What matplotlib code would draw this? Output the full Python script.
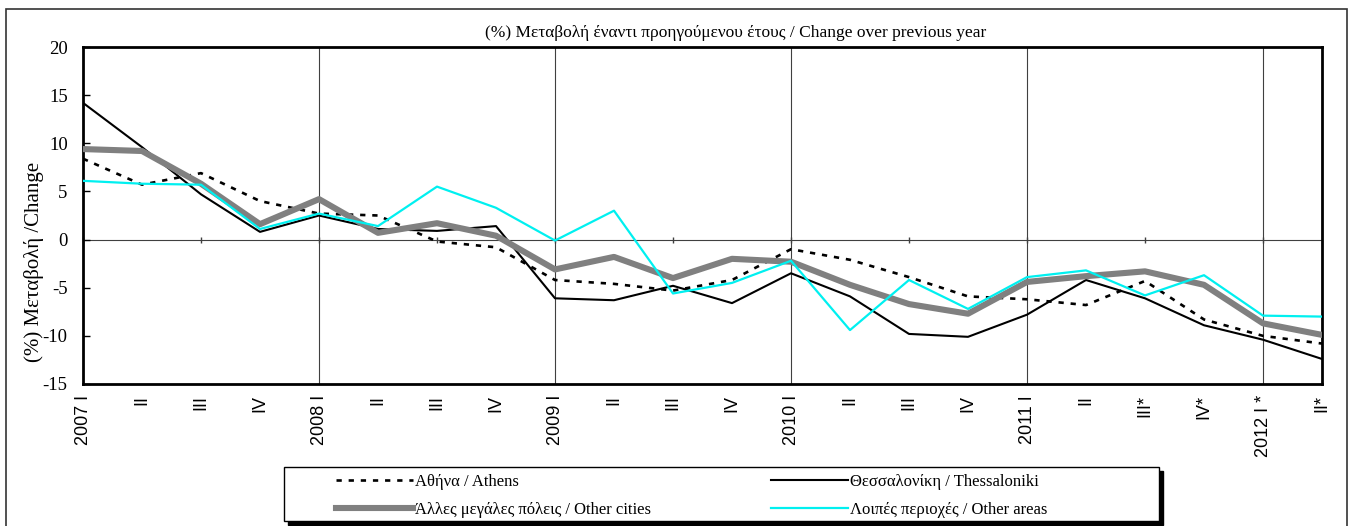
#!/usr/bin/python3
# -*- coding: utf_8 -*-

"""
Quarterly % change of dwelling prices, Athens / Thessaloniki / other cities / other areas
"""

import matplotlib
matplotlib.use('Agg')
import matplotlib.pyplot as plt
from matplotlib.patches import Rectangle

quarters = ['2007 I', 'II', 'III', 'IV',
            '2008 I', 'II', 'III', 'IV',
            '2009 I', 'II', 'III', 'IV',
            '2010 I', 'II', 'III', 'IV',
            '2011 I', 'II', 'III*', 'IV*',
            '2012 I *', 'II*']

athens = [8.4, 5.7, 6.9, 4.0, 2.7, 2.5, -0.2, -0.8, -4.2, -4.6, -5.3,
          -4.2, -1.0, -2.1, -3.9, -5.9, -6.2, -6.8, -4.3, -8.3, -10.0, -10.8]
thessaloniki = [14.2, 9.6, 4.7, 0.8, 2.5, 1.1, 0.9, 1.4, -6.1, -6.3, -4.8,
                -6.6, -3.5, -5.9, -9.8, -10.1, -7.8, -4.2, -6.1, -8.9, -10.4, -12.4]
other_cities = [9.4, 9.2, 5.8, 1.6, 4.2, 0.7, 1.7, 0.4, -3.1, -1.8, -4.0,
                -2.0, -2.3, -4.7, -6.7, -7.7, -4.4, -3.8, -3.3, -4.7, -8.7, -9.9]
other_areas = [6.1, 5.8, 5.7, 1.1, 2.7, 1.4, 5.5, 3.3, -0.1, 3.0, -5.6,
               -4.5, -2.2, -9.4, -4.2, -7.2, -3.9, -3.2, -5.8, -3.7, -7.9, -8.0]

labels = ['Αθήνα / Athens', 'Θεσσαλονίκη / Thessaloniki',
          'Άλλες μεγάλες πόλεις / Other cities', 'Λοιπές περιοχές / Other areas']

title = '(%) Μεταβολή έναντι προηγούμενου έτους / Change over previous year'
ylabel = '(%) Μεταβολή /Change'

SERIF = ['Liberation Serif', 'DejaVu Serif']
SANS = ['Liberation Sans', 'DejaVu Sans']


def main():
    W, H = 1350, 526
    fig = plt.figure(figsize=(W / 100, H / 100), dpi=100)

    # outer chart frame
    fig.patches.append(Rectangle((6 / W, -0.01), 1341 / W, 1.01 - 9 / H,
                                 transform=fig.transFigure, fill=False,
                                 edgecolor='#333333', linewidth=1.2))

    ax = fig.add_axes([83 / W, 1 - 384 / H, 1239 / W, 337 / H])
    x = list(range(len(quarters)))

    s1, = ax.plot(x, athens, color='black', lw=1.9, ls=(0, (2, 2.6)), zorder=3)
    s2, = ax.plot(x, thessaloniki, color='black', lw=1.5, zorder=4)
    s3, = ax.plot(x, other_cities, color='#808080', lw=4.4, zorder=5)
    s4, = ax.plot(x, other_areas, color='#00F0F0', lw=1.6, zorder=6)

    ax.set_xlim(0, len(quarters) - 1)
    ax.set_ylim(-15, 20)
    ax.set_yticks(range(-15, 21, 5))
    ax.set_yticklabels([str(v) for v in range(-15, 21, 5)], family=SERIF, fontsize=13.5)
    ax.tick_params(axis='y', direction='in', length=5, width=1, pad=11)

    ax.set_xticks(x)
    ax.set_xticklabels(quarters, rotation=90, family=SANS, fontsize=13, va='top')
    ax.tick_params(axis='x', length=0, pad=8)

    # yearly gridlines
    for i in range(4, len(quarters), 4):
        ax.axvline(i, color='#404040', lw=0.8, zorder=1)

    # category axis crossing at zero
    ax.axhline(0, color='#404040', lw=0.8, zorder=1)
    sec = ax.secondary_xaxis(15 / 35)
    sec.set_xticks(x[::2])
    sec.set_xticklabels([])
    sec.tick_params(direction='inout', length=5, width=1, colors='#404040')
    sec.spines['bottom'].set_visible(False)

    for sp in ax.spines.values():
        sp.set_linewidth(2)

    fig.text(736 / W, 1 - 33 / H, title, ha='center', va='center',
             family=SERIF, fontsize=12.5)
    fig.text(34 / W, 1 - 262 / H, ylabel, ha='center', va='center',
             rotation=90, family=SERIF, fontsize=15)

    # legend box with shadow
    lx, ly, lw_, lh = 284, 467, 875, 54
    fig.patches.append(Rectangle(((lx + 4) / W, 1 - (ly + lh + 4) / H), lw_ / W, lh / H,
                                 transform=fig.transFigure, facecolor='black',
                                 edgecolor='black', zorder=1))
    fig.patches.append(Rectangle((lx / W, 1 - (ly + lh) / H), lw_ / W, lh / H,
                                 transform=fig.transFigure, facecolor='white',
                                 edgecolor='black', linewidth=1, zorder=2))

    opts = dict(frameon=False, handlelength=4.6, handletextpad=0.12,
                labelspacing=0.7, borderpad=0, borderaxespad=0,
                prop={'family': SERIF, 'size': 12})
    leg1 = fig.legend([s1, s3], [labels[0], labels[2]], loc='upper left',
                      bbox_to_anchor=(336 / W, 1 - 474 / H), **opts)
    leg2 = fig.legend([s2, s4], [labels[1], labels[3]], loc='upper left',
                      bbox_to_anchor=(771 / W, 1 - 474 / H), **opts)
    leg1.set_zorder(3)
    leg2.set_zorder(3)

    fig.savefig('out.png', dpi=100)


if __name__ == '__main__':
    main()
